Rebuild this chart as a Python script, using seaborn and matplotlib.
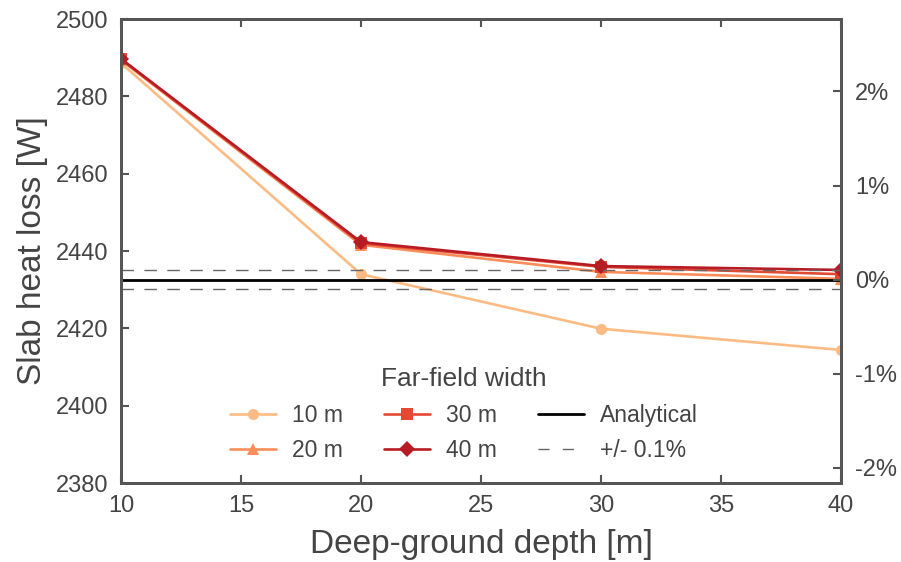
import numpy as np
import pandas as pd
import matplotlib
matplotlib.use("Agg")
import matplotlib.pyplot as plt
import seaborn as sns
from matplotlib.lines import Line2D
from matplotlib.ticker import FuncFormatter

# ---- data ----
depths = [10, 20, 30, 40]
widths = ["10 m", "20 m", "30 m", "40 m"]
loss_10m = [2488.6, 2434.0, 2419.9, 2414.4]
loss_20m = [2489.4, 2441.6, 2434.6, 2432.8]
loss_30m = [2489.6, 2442.0, 2435.9, 2434.0]
loss_40m = [2489.7, 2442.3, 2436.1, 2435.1]
analytical = 2432.6
tolerance = 0.001
pct_ticks = [-2, -1, 0, 1, 2]

colors = ["#fdbb84", "#fc8d59", "#e34a33", "#b71c24"]
markers = ["o", "^", "s", "D"]

rows = []
for w, vals in zip(widths, [loss_10m, loss_20m, loss_30m, loss_40m]):
    for d, v in zip(depths, vals):
        rows.append({"depth": d, "loss": v, "width": w})
df = pd.DataFrame(rows)

sns.set_style("ticks")
grey = "#555555"
txt = "#444444"
plt.rcParams["font.family"] = ["Liberation Sans", "DejaVu Sans"]
plt.rcParams.update({
    "axes.edgecolor": grey, "axes.linewidth": 2.0,
    "xtick.color": grey, "ytick.color": grey,
    "xtick.labelcolor": txt, "ytick.labelcolor": txt,
    "axes.labelcolor": txt, "text.color": txt,
})

fig = plt.figure(figsize=(9.01, 5.62), dpi=100)
ax = fig.add_axes([121/901, 1-483/562, 720/901, 464/562])

sns.lineplot(data=df, x="depth", y="loss", hue="width", style="width",
             palette=colors, markers=markers, dashes=False, markersize=8,
             markeredgewidth=0, linewidth=1.9, ax=ax, legend=False)

ax.axhline(analytical, color="black", lw=2)
for s in (1 - tolerance, 1 + tolerance):
    ax.axhline(analytical * s, color="#666666", lw=1, dashes=(9, 7.5))

ax.set_xlim(10, 40)
ax.set_ylim(2380, 2500)
ax.set_xticks([10, 15, 20, 25, 30, 35, 40])
ax.set_yticks(np.arange(2380, 2501, 20))
ax.set_xlabel("Deep-ground depth [m]", fontsize=24, labelpad=8)
ax.set_ylabel("Slab heat loss [W]", fontsize=24, labelpad=6)
ax.tick_params(axis="both", direction="in", length=6, width=1.5, labelsize=17, pad=9)
ax.tick_params(axis="x", top=True)
ax.tick_params(axis="y", right=False)

ax2 = ax.twinx()
ax2.set_ylim((2380 / analytical - 1) * 100, (2500 / analytical - 1) * 100)
ax2.set_yticks(pct_ticks)
ax2.yaxis.set_major_formatter(FuncFormatter(lambda v, p: f"{v:.0f}%"))
ax2.tick_params(axis="y", direction="in", length=6, width=1.5, labelsize=17, pad=10)
for sp in ax2.spines.values():
    sp.set_edgecolor(grey)
    sp.set_linewidth(2.0)

handles = [Line2D([], [], color=c, marker=m, markersize=8, markeredgewidth=0, lw=1.9)
           for c, m in zip(colors, markers)]
handles += [Line2D([], [], color="black", lw=2),
            Line2D([], [], color="#666666", lw=1, dashes=(8, 9.5))]
labels = widths + ["Analytical", "+/- 0.1%"]
leg = ax.legend(handles, labels, ncol=3, title="Far-field width", frameon=False,
                loc="lower center", bbox_to_anchor=(0.476, 0.0), fontsize=16.5,
                title_fontsize=19, handlelength=2.0, handletextpad=0.7,
                columnspacing=1.8, labelspacing=0.55)
leg.get_title().set_color(txt)

fig.savefig("out.png", dpi=100)
